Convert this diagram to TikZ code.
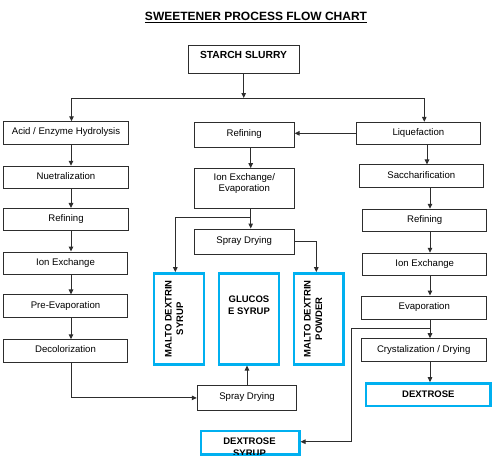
\documentclass[tikz,border=0pt]{standalone}
\usepackage{fontspec}
\setmainfont{Liberation Sans}
\usetikzlibrary{arrows.meta}
\definecolor{skyb}{RGB}{0,176,240}
\definecolor{lnc}{RGB}{45,45,45}
\begin{document}
\begin{tikzpicture}[x=1pt,y=-1pt,
 box/.style={draw=lnc, line width=1pt, fill=white, inner sep=0pt, minimum height=22.5pt,
   font=\fontsize{9.6}{10.5}\selectfont, text height=6.9pt, text depth=3pt},
 prod/.style={draw=skyb, line width=2.4pt, fill=white, inner sep=0pt},
 ptxt/.style={font=\bfseries\fontsize{9.5}{11.5}\selectfont, align=center, inner sep=0pt},
 btxt/.style={font=\fontsize{9.6}{10.5}\selectfont, align=center, inner sep=0pt},
 arr/.style={draw=lnc, line width=1pt, -{Triangle[length=5pt,width=4.5pt]}},
 ln/.style={draw=lnc, line width=1pt}]
\useasboundingbox (0,0) rectangle (500,464);

% title
\node[font=\bfseries\fontsize{12}{14}\selectfont, inner sep=0pt] (title) at (256,16) {SWEETENER PROCESS FLOW CHART};
\draw[line width=1pt] ([yshift=-2.4pt]title.south west) -- ([yshift=-2.4pt]title.south east);

% top
\node[box, minimum width=111pt, minimum height=28pt] (starch) at (243.5,59) {};
\node[font=\bfseries\fontsize{10.3}{12}\selectfont, inner sep=0pt] (starcht) at (243.5,55) {STARCH SLURRY};

% left column
\node[box, minimum width=124.5pt] (acid) at (66,133) {Acid / Enzyme Hydrolysis};
\node[box, minimum width=124.5pt] (neut) at (66,177.5) {Nuetralization};
\node[box, minimum width=124.5pt] (ref1) at (66,219.7) {Refining};
\node[box, minimum width=124.5pt] (ion1) at (65.5,263.3) {Ion Exchange};
\node[box, minimum width=124.5pt] (pre) at (65.5,306.2) {Pre-Evaporation};
\node[box, minimum width=124.5pt] (deco) at (65.5,351) {Decolorization};

% middle column
\node[box, minimum width=99.7pt, minimum height=24.3pt] (ref2) at (244.2,134.9) {Refining};
\node[box, minimum width=100pt, minimum height=40pt] (ionev) at (244.3,188.7) {};
\node[btxt] (ionevt) at (244.3,183.5) {Ion Exchange/\\Evaporation};
\node[box, minimum width=99.7pt, minimum height=25pt] (spray1) at (244.2,241.5) {Spray Drying};
\node[box, minimum width=99.4pt, minimum height=24.3pt] (spray2) at (247,397.9) {Spray Drying};

% products
\node[prod, minimum width=49.7pt, minimum height=91pt] (msyr) at (178.9,318.8) {};
\node[ptxt, rotate=90] (msyrt) at (174,318.8) {MALTO DEXTRIN\\SYRUP};
\node[prod, minimum width=60.3pt, minimum height=91pt] (gluc) at (248.9,318.8) {};
\node[ptxt] (gluct) at (249,305) {GLUCOS\\E SYRUP};
\node[prod, minimum width=49.6pt, minimum height=91pt] (mpow) at (318.5,318.8) {};
\node[ptxt, rotate=90] (mpowt) at (313.2,318.8) {MALTO DEXTRIN\\POWDER};
\node[prod, minimum width=98.6pt, minimum height=23.3pt] (dsyr) at (250,442.7) {};
\begin{scope}
\clip ([shift={(1.2pt,1.2pt)}]dsyr.south west) rectangle ([shift={(-1.2pt,-1.2pt)}]dsyr.north east);
\node[ptxt, font=\bfseries\fontsize{9.5}{12}\selectfont] (dsyrt) at (249.5,447) {DEXTROSE\\SYRUP};
\end{scope}

% right column
\node[box, minimum width=123.3pt, minimum height=22pt] (liq) at (418.4,133.3) {Liquefaction};
\node[box, minimum width=124pt] (sacc) at (421.3,176.2) {Saccharification};
\node[box, minimum width=124pt] (ref3) at (424.7,220.5) {Refining};
\node[box, minimum width=124pt] (ion3) at (424.7,264.5) {Ion Exchange};
\node[box, minimum width=124.7pt, minimum height=23pt] (evap) at (424.3,307.5) {Evaporation};
\node[box, minimum width=124.7pt, minimum height=23pt] (cryst) at (423.7,350.2) {Crystalization / Drying};
\node[prod, minimum width=124.7pt, minimum height=22.7pt, font=\bfseries\fontsize{9.5}{11.5}\selectfont] (dext) at (428.3,394.7) {DEXTROSE};

% helper coordinates
\coordinate (split) at (243.7,98);
\coordinate (lA) at (71.5,98);
\coordinate (rA) at (424.3,98);
\coordinate (lx) at (71,0);
\coordinate (mx) at (250.7,0);
\coordinate (mb) at (250.7,217.7);
\coordinate (msx) at (175.3,0);
\coordinate (mpx) at (316.3,0);
\coordinate (rx1) at (427,0);
\coordinate (rx) at (430,0);
\coordinate (eb) at (430,328.3);
\coordinate (ebc) at (351.3,441.7);

% connectors
\draw[arr] (starch.south -| split) -- (split);
\draw[ln] (lA) -- (rA);
\draw[arr] (lA) -- (acid.north -| lA);
\draw[arr] (rA) -- (liq.north -| rA);

\draw[arr] (acid.south -| lx) -- (neut.north -| lx);
\draw[arr] (neut.south -| lx) -- (ref1.north -| lx);
\draw[arr] (ref1.south -| lx) -- (ion1.north -| lx);
\draw[arr] (ion1.south -| lx) -- (pre.north -| lx);
\draw[arr] (pre.south -| lx) -- (deco.north -| lx);
\draw[arr] (deco.south -| lx) |- (spray2.west);
\draw[arr] (spray2.north) -- (gluc.south -| spray2.north);

\draw[arr] (liq.west) -- (liq.west -| ref2.east);
\draw[arr] (ref2.south -| mx) -- (ionev.north -| mx);
\draw[arr] (ionev.south -| mx) -- (spray1.north -| mx);
\draw[arr] (mb) -| (msyr.north -| msx);
\draw[arr] (spray1.east) -| (mpow.north -| mpx);

\draw[arr] (liq.south -| rx1) -- (sacc.north -| rx1);
\draw[arr] (sacc.south -| rx) -- (ref3.north -| rx);
\draw[arr] (ref3.south -| rx) -- (ion3.north -| rx);
\draw[arr] (ion3.south -| rx) -- (evap.north -| rx);
\draw[arr] (evap.south -| rx) -- (cryst.north -| rx);
\draw[arr] (cryst.south -| rx) -- (dext.north -| rx);
\draw[arr] (eb) -| (ebc) -- (ebc -| dsyr.east);
\end{tikzpicture}
\end{document}
